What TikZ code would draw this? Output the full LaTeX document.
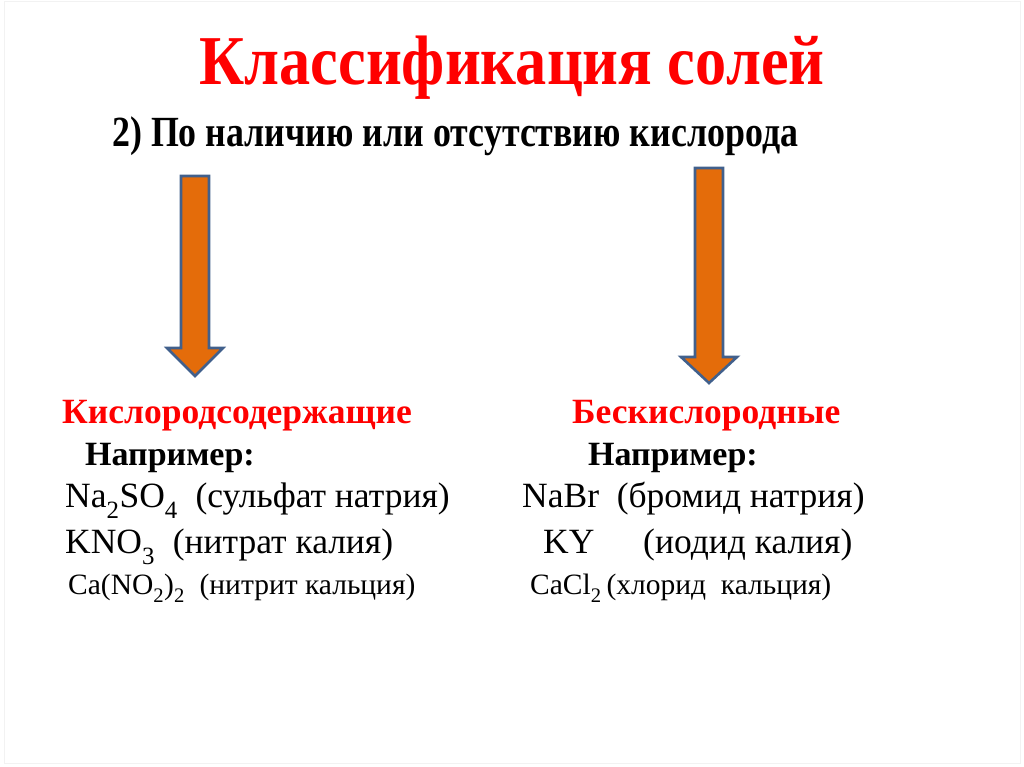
\documentclass[tikz,border=0pt]{standalone}
\usepackage{fontspec}
\setmainfont{Liberation Serif}
\usetikzlibrary{positioning}

\definecolor{titlered}{RGB}{255,0,0}
\definecolor{arroworange}{RGB}{228,108,10}
\definecolor{arrowedge}{RGB}{65,96,140}

\newcommand{\chemsub}[1]{\raisebox{-0.25ex}{\textsubscript{#1}}}

\tikzset{
    txt/.style={anchor=base west, inner sep=0pt},
    heading/.style={txt, text=titlered, font=\fontsize{35.5}{40}\selectfont\bfseries},
    example/.style={txt, font=\fontsize{34}{40}\selectfont\bfseries},
    salt/.style={txt, font=\fontsize{35.5}{40}\selectfont},
    smallsalt/.style={txt, font=\fontsize{29.5}{34}\selectfont},
    blockarrow/.style={fill=arroworange, draw=arrowedge, line width=2.6pt, line join=miter}
}

\begin{document}
\begin{tikzpicture}[x=1pt, y=-1pt]

    % page
    \useasboundingbox (0,0) rectangle (1024,767);
    \draw[black!5, line width=1pt] (4,2) rectangle (1020,763);

    % title
    \node[txt, anchor=base, text=titlered, font=\fontsize{70}{80}\selectfont\bfseries, xscale=0.89]
        (title) at (512,85) {Классификация солей};

    \node[txt, font=\fontsize{43}{50}\selectfont\bfseries, xscale=0.834]
        (criterion) at (112,147) {2) По наличию или отсутствию кислорода};

    % left arrow
    \draw[blockarrow]
        (181,176) -- (209,176) -- (209,348) -- (223,348) --
        (195,376) -- (167,348) -- (181,348) -- cycle;

    % right arrow
    \draw[blockarrow]
        (695,168) -- (723,168) -- (723,357) -- (737,357) --
        (709,383) -- (681,357) -- (695,357) -- cycle;

    % oxygen-containing
    \node[heading] (oxo) at (62,423) {Кислородсодержащие};
    \node[example] (oxo_ex) at (85,465) {Например:};
    \node[salt] (na2so4) at (65,507) {Na\chemsub{2}SO\chemsub{4}\ \ (сульфат натрия)};
    \node[salt] (kno3) at (65,553) {KNO\chemsub{3}\ \ (нитрат калия)};
    \node[smallsalt] (cano2) at (68,594) {Ca(NO\chemsub{2})\chemsub{2}\ \ (нитрит кальция)};

    % oxygen-free
    \node[heading] (anoxo) at (572,423) {Бескислородные};
    \node[example] (anoxo_ex) at (588,465) {Например:};
    \node[salt] (nabr) at (522,507) {NaBr\ \ (бромид натрия)};
    \node[salt] (ky) at (543,553) {KY};
    \node[salt] (ky_name) at (643,553) {(иодид калия)};
    \node[smallsalt] (cacl2) at (530,594) {CaCl\chemsub{2}\,(хлорид\ \ кальция)};

\end{tikzpicture}
\end{document}
